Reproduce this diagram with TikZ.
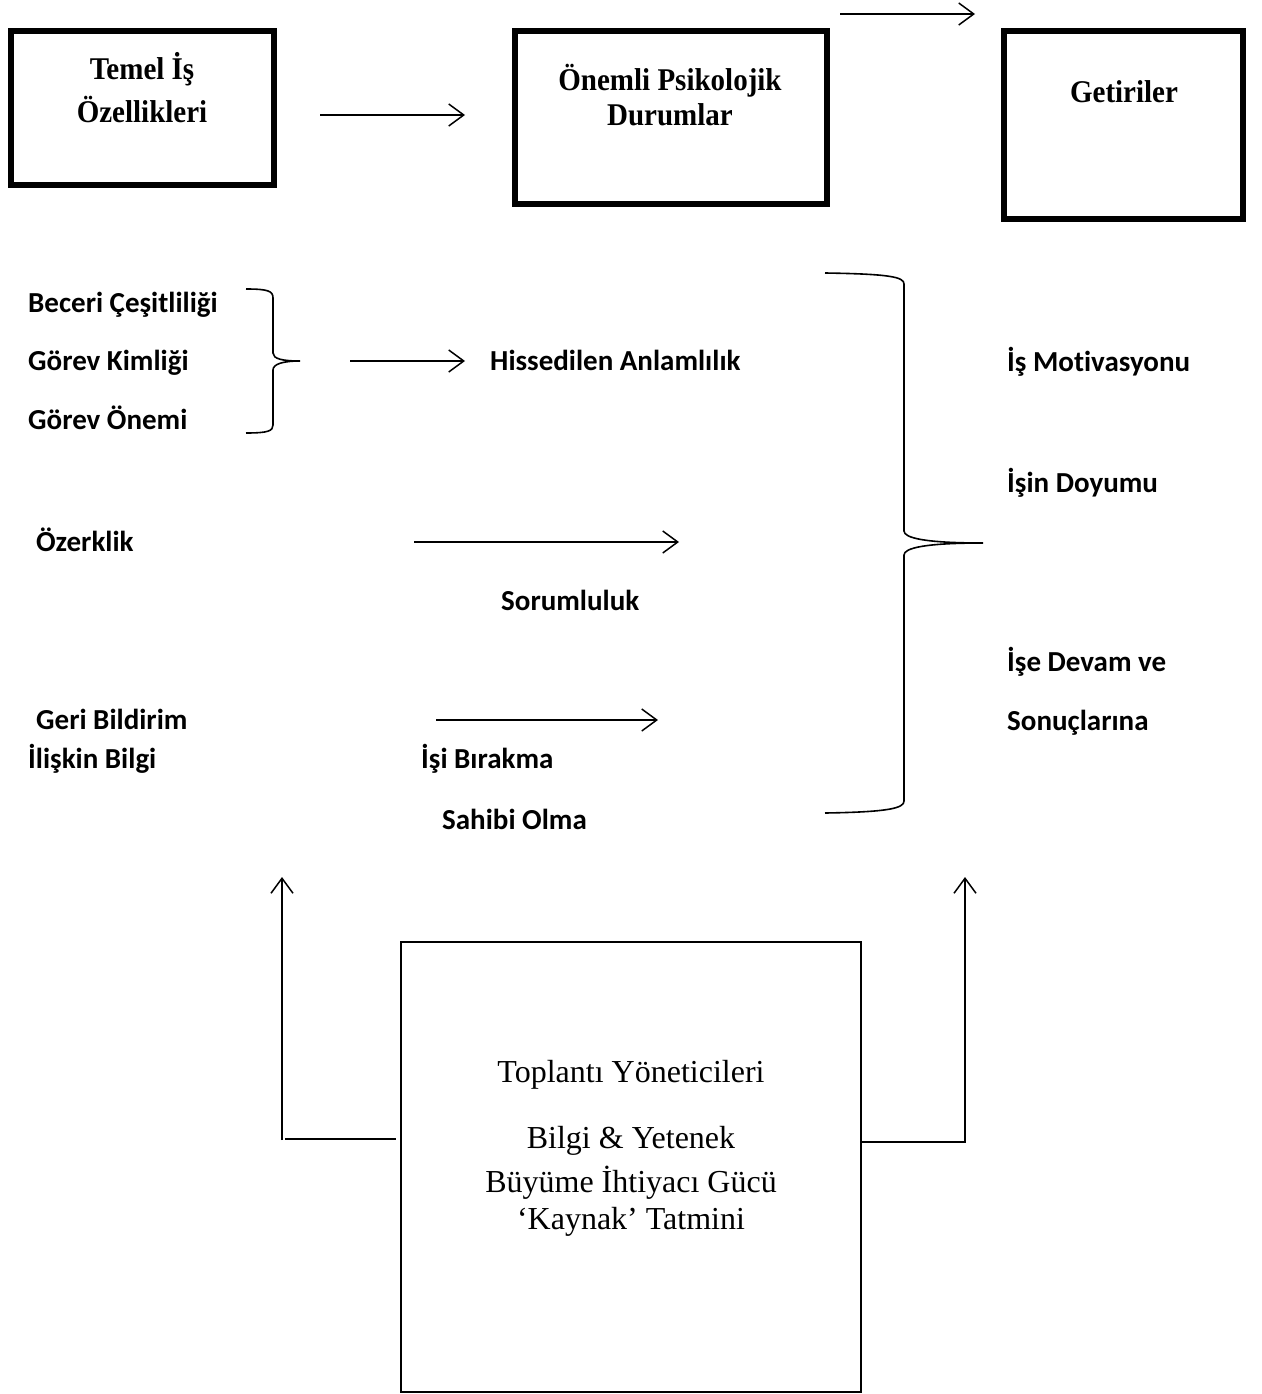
\documentclass[tikz,border=0pt]{standalone}
\usepackage{fontspec}
\setmainfont{Liberation Serif}
\newfontfamily\calfont[Ligatures=NoCommon]{Carlito}
\usetikzlibrary{arrows.meta}
\newcommand{\tallb}[1]{\scalebox{1}[1.09]{#1}}
\begin{document}
\begin{tikzpicture}[x=1pt,y=-1pt,
  bigbox/.style={draw,line width=5.5pt,inner sep=0pt},
  thinbox/.style={draw,line width=2pt,inner sep=0pt},
  serifb/.style={font=\fontsize{29}{34}\selectfont\bfseries, inner sep=0pt, anchor=base},
  serifr/.style={font=\fontsize{32}{38}\selectfont, inner sep=0pt, anchor=base},
  lab/.style={font=\calfont\bfseries\fontsize{29}{34}\selectfont, inner sep=0pt, anchor=base west},
  arr/.style={line width=1.5pt, -{Straight Barb[length=15pt,width=22pt,line width=1.5pt]}},
  ln/.style={line width=1.5pt},
  bracestyle/.style={line width=1.6pt}]
\useasboundingbox (0,0) rectangle (1261,1394);

% top boxes
\node[bigbox, minimum width=263pt, minimum height=154pt] (b1) at (142.5,108) {};
\node[bigbox, minimum width=312pt, minimum height=173pt] (b2) at (671,117.5) {};
\node[bigbox, minimum width=239pt, minimum height=188pt] (b3) at (1123.5,125) {};
\node[serifb] (b1t1) at (142,80) {\tallb{Temel İş}};
\node[serifb] (b1t2) at (142,123) {\tallb{Özellikleri}};
\node[serifb] (b2t1) at (670,91) {\tallb{Önemli Psikolojik}};
\node[serifb] (b2t2) at (670,125) {\tallb{Durumlar}};
\node[serifb] (b3t) at (1124,103) {\tallb{Getiriler}};

\coordinate (a1s) at (320,115); \coordinate (a1e) at (465,115);
\draw[arr] (a1s) -- (a1e);
\coordinate (a2s) at (840,14); \coordinate (a2e) at (975,14);
\draw[arr] (a2s) -- (a2e);

% left group
\node[lab] (l1) at (28,312) {Beceri Çeşitliliği};
\node[lab] (l2) at (28,370) {Görev Kimliği};
\node[lab] (l3) at (28,429) {Görev Önemi};
\draw[bracestyle] (246,289) .. controls (268,289) and (273,291) .. (273,298) -- (273,353)
  .. controls (273,359) and (283,361) .. (300,361)
  .. controls (283,361) and (273,364) .. (273,370) -- (273,425)
  .. controls (273,431) and (268,433) .. (246,433);
\node[lab] (m1) at (490,370) {Hissedilen Anlamlılık};
\coordinate (a3s) at (350,361); \coordinate (a3e) at (465,361);
\draw[arr] (a3s) -- (a3e);

\node[lab] (l4) at (36,551) {Özerklik};
\coordinate (a4s) at (414,542); \coordinate (a4e) at (679,542);
\draw[arr] (a4s) -- (a4e);
\node[lab] (m2) at (501,610) {Sorumluluk};

\node[lab] (l5) at (36,729) {Geri Bildirim};
\node[lab] (l6) at (28,768) {İlişkin Bilgi};
\coordinate (a5s) at (436,720); \coordinate (a5e) at (658,720);
\draw[arr] (a5s) -- (a5e);
\node[lab] (m3) at (421,768) {İşi Bırakma};
\node[lab] (m4) at (442,829) {Sahibi Olma};

% big brace
\draw[bracestyle] (825,273) .. controls (890,274) and (904,277) .. (904,284) -- (904,531)
  .. controls (904,538) and (925,543) .. (983,543)
  .. controls (925,543) and (904,548) .. (904,555) -- (904,801)
  .. controls (904,808) and (890,812) .. (825,813);

\node[lab] (r1) at (1007,371) {İş Motivasyonu};
\node[lab] (r2) at (1007,492) {İşin Doyumu};
\node[lab] (r3) at (1007,671) {İşe Devam ve};
\node[lab] (r4) at (1007,730) {Sonuçlarına};

% bottom box
\node[thinbox, minimum width=460pt, minimum height=450pt] (bb) at (631,1167) {};
\node[serifr] (bt1) at (631,1082) {Toplantı Yöneticileri};
\node[serifr] (bt2) at (631,1148) {Bilgi \& Yetenek};
\node[serifr] (bt3) at (631,1192) {Büyüme İhtiyacı Gücü};
\node[serifr] (bt4) at (631,1229) {‘Kaynak’ Tatmini};

\coordinate (lv0) at (282,1140); \coordinate (lv1) at (282,877);
\draw[arr] (lv0) -- (lv1);
\coordinate (lh0) at (285,1139);
\draw[ln] (lh0) -- ([xshift=-4pt]bb.west |- lh0);
\coordinate (rv1) at (965,877);
\draw[arr] (bb.east |- 0,1142) -- (965,1142) -- (rv1);
\end{tikzpicture}
\end{document}
